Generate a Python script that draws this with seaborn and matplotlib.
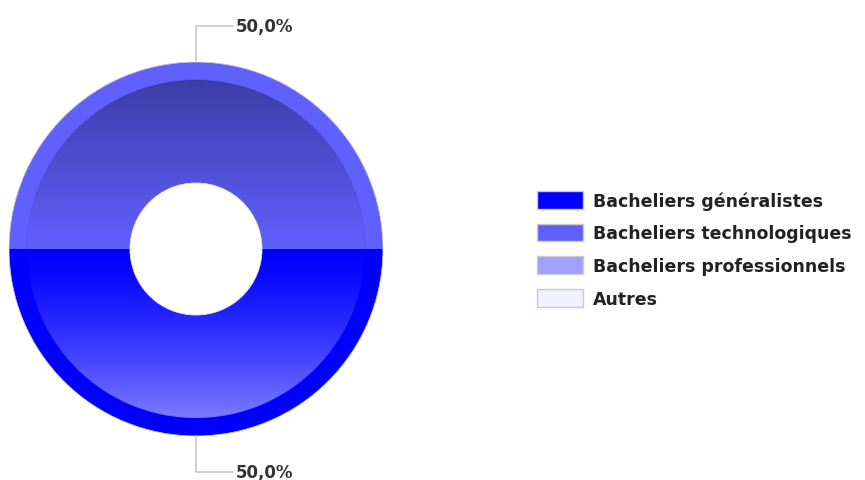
import numpy as np
import matplotlib
matplotlib.use("Agg")
import matplotlib.pyplot as plt
import seaborn as sns
from matplotlib.patches import Circle, Patch

categories = ["Bacheliers généralistes", "Bacheliers technologiques",
              "Bacheliers professionnels", "Autres"]
values = [50.0, 50.0, 0.0, 0.0]
colors = ["#0000ff", "#6060ff", "#a0a0ff", "#f0f0ff"]

sns.set_style("white")
palette = sns.color_palette(colors)
plt.rcParams['font.family'] = ['DejaVu Sans']

fig = plt.figure(figsize=(8.65, 4.81), dpi=100)
ax = fig.add_axes([9/865, 44/481, 374/865, 374/481])
ax.set_xlim(-1, 1)
ax.set_ylim(-1, 1)
ax.set_aspect("equal")
ax.axis("off")

wedges, _ = ax.pie(values, colors=palette, startangle=0, counterclock=False,
                   radius=1.0, wedgeprops=dict(width=0.647, linewidth=0))
ax.set_xlim(-1, 1)
ax.set_ylim(-1, 1)

# gradient overlay (dark top -> light bottom) inside inner ring
n = 256
img = np.zeros((n, 4))
tt = np.linspace(1, -1, n)  # top=1 -> bottom=-1
for i, v in enumerate(tt):
    if v > 0:
        img[i] = [0.08, 0.08, 0.25, 0.5 * v]
    else:
        img[i] = [1, 1, 1, 0.55 * (-v) ** 1.3]
img = np.repeat(img[:, None, :], 8, axis=1)
im = ax.imshow(img, extent=(-1, 1, -1, 1), origin="upper", aspect="auto", zorder=3,
               interpolation="bilinear")
clip = Circle((0, 0), 0.904, transform=ax.transData)
im.set_clip_path(clip)
ring = Circle((0, 0), 0.904, fill=False, edgecolor=(0, 0, 0, 0.06), lw=1.0, zorder=4)
ax.add_patch(ring)
ax.add_patch(Circle((0, 0), 0.353, facecolor="white", edgecolor="#dddddd", lw=0.6, zorder=5))
ax.add_patch(Circle((0, 0), 1.0, fill=False, edgecolor="#cccccc", lw=0.6, zorder=5))

# labels with leader lines
angle = 0.0
total = sum(values)
for v in values:
    span = 360.0 * v / total
    if v > 0:
        mid = np.deg2rad(angle - span / 2)
        x0, y0 = np.cos(mid), np.sin(mid)
        sgn = 1 if y0 > 0 else -1
        y1 = y0 + sgn * 0.195
        ax.plot([x0, x0, x0 + 0.2], [y0, y1, y1], color="#c8c8c8", lw=1.2,
                clip_on=False, zorder=2)
        ax.text(x0 + 0.214, y1, f"{v:.1f}%".replace(".", ","), ha="left", va="center",
                fontsize=12, fontweight="bold", color="#333333", clip_on=False)
    angle -= span

handles = [Patch(facecolor=c, edgecolor="#cccccc", linewidth=1) for c in palette]
leg = fig.legend(handles, categories, loc="upper left",
                 bbox_to_anchor=(530/865, 1 - 185/481), frameon=False,
                 fontsize=12.5, handlelength=2.65, handleheight=1.2,
                 labelspacing=0.8, handletextpad=0.6, borderaxespad=0)
for txt in leg.get_texts():
    txt.set_fontweight("bold")
    txt.set_color("#222222")

fig.savefig("out.png", dpi=100)
